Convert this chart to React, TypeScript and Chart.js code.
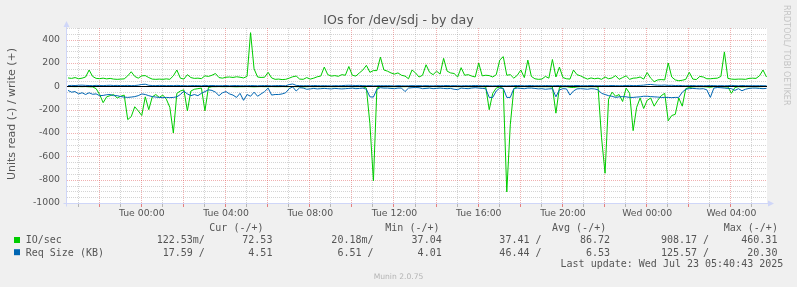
import React, { useEffect, useRef } from 'react';
import { Chart, registerables } from 'chart.js';

Chart.register(...registerables);

// Samples: 10-minute steps, hours relative to Tue 00:00
const START_HOUR = -3.5;
const STEP_HOURS = 1 / 6;
const X_MIN = -3.55;
const X_MAX = 29.69;
const Y_MIN = -1000;
const Y_MAX = 500;

// IO/sec, write (+)
const ioWrite = [
  72, 68, 75, 65, 70, 80, 140, 85, 68, 66,
  70, 64, 68, 62, 60, 62, 64, 90, 125, 85,
  70, 90, 92, 75, 62, 60, 62, 60, 64, 60,
  90, 140, 70, 62, 100, 75, 68, 70, 66, 90,
  85, 95, 110, 75, 70, 78, 80, 76, 82, 78,
  72, 85, 460, 150, 80, 76, 78, 120, 72, 60,
  62, 58, 60, 70, 82, 88, 62, 60, 75, 62,
  70, 82, 88, 165, 100, 88, 92, 86, 100, 95,
  170, 95, 88, 115, 140, 180, 120, 135, 135, 250,
  140, 130, 115, 105, 115, 95, 88, 65, 140, 115,
  80, 95, 185, 120, 100, 130, 105, 240, 130, 115,
  110, 80, 160, 95, 100, 88, 80, 200, 90, 95,
  92, 80, 100, 225, 255, 95, 100, 70, 95, 140,
  75, 225, 85, 65, 60, 62, 85, 70, 230, 80,
  165, 75, 65, 62, 140, 100, 90, 75, 62, 72,
  65, 70, 60, 80, 65, 72, 92, 60, 75, 90,
  60, 70, 72, 80, 62, 118, 70, 40, 55, 58,
  55, 200, 80, 55, 48, 52, 60, 120, 62, 58,
  85, 80, 65, 65, 68, 70, 85, 295, 68, 62,
  60, 62, 62, 60, 68, 70, 68, 90, 140, 80,
];

// IO/sec, read (-)
const ioRead = [
  2, 2, 3, 2, 3, 2, 4, 5, 20, 70,
  140, 90, 80, 70, 100, 85, 75, 285, 260, 175,
  210, 250, 90, 200, 90, 70, 95, 75, 110, 180,
  400, 60, 40, 30, 210, 40, 25, 20, 15, 210,
  10, 3, 3, 2, 3, 3, 2, 3, 4, 3,
  3, 2, 3, 4, 3, 2, 3, 3, 2, 3,
  3, 2, 3, 3, 2, 3, 3, 5, 3, 2,
  3, 2, 3, 3, 2, 3, 3, 2, 3, 3,
  2, 3, 3, 2, 3, 15, 320, 810, 15, 3,
  3, 2, 3, 3, 2, 3, 3, 2, 3, 3,
  3, 2, 3, 3, 2, 3, 3, 2, 3, 3,
  2, 3, 3, 2, 3, 3, 2, 3, 3, 5,
  200, 60, 15, 5, 20, 905, 330, 20, 3, 3,
  2, 3, 3, 2, 3, 3, 3, 3, 5, 230,
  10, 3, 3, 8, 10, 5, 3, 3, 3, 3,
  3, 5, 440, 745, 110, 50, 85, 70, 130, 15,
  60, 380, 180, 100, 190, 120, 100, 170, 120, 80,
  60, 295, 250, 240, 100, 170, 20, 10, 5, 3,
  3, 3, 5, 8, 3, 3, 3, 5, 5, 60,
  10, 3, 5, 3, 3, 3, 3, 3, 2, 0.12,
];

// Req Size (KB), read (-)
const sizeRead = [
  35, 50, 45, 65, 55, 70, 55, 68, 65, 80,
  78, 72, 70, 80, 80, 88, 92, 95, 92, 88,
  80, 65, 70, 80, 88, 92, 95, 97, 95, 97,
  95, 90, 70, 42, 65, 80, 70, 80, 60, 45,
  30, 35, 50, 80, 55, 45, 65, 75, 95, 60,
  120, 70, 85, 50, 85, 65, 45, 15, 75, 70,
  70, 65, 55, 20, 5, 40, 12, 15, 25, 22,
  18, 22, 20, 18, 20, 22, 18, 20, 22, 20,
  18, 15, 20, 18, 15, 25, 90, 92, 25, 12,
  15, 15, 18, 20, 15, 15, 45, 15, 12, 10,
  12, 20, 18, 15, 20, 18, 15, 18, 20, 18,
  25, 28, 15, 18, 20, 15, 12, 15, 18, 20,
  95, 95, 40, 15, 18, 95, 95, 20, 15, 18,
  20, 15, 15, 18, 22, 20, 25, 22, 20, 90,
  30, 20, 22, 75, 40, 22, 20, 22, 25, 20,
  22, 30, 60, 70, 80, 85, 95, 90, 88, 90,
  95, 95, 92, 90, 85, 85, 88, 90, 92, 95,
  95, 95, 97, 95, 95, 50, 25, 20, 18, 20,
  22, 20, 30, 95, 15, 10, 12, 15, 18, 20,
  35, 20, 38, 25, 18, 15, 15, 18, 20, 17.59,
];

// Req Size (KB), write (+)
const sizeWrite = [
  6, 8, 7, 9, 10, 8, 7, 6, 8, 7,
  6, 8, 9, 7, 8, 6, 7, 8, 6, 7,
  10, 16, 18, 9, 7, 6, 8, 7, 6, 7,
  6, 8, 7, 6, 5, 6, 7, 6, 5, 8,
  6, 7, 6, 5, 6, 7, 5, 6, 7, 5,
  6, 5, 7, 6, 5, 6, 7, 6, 5, 6,
  7, 6, 5, 15, 20, 8, 6, 5, 6, 5,
  7, 6, 5, 6, 5, 4, 6, 5, 6, 8,
  9, 8, 7, 8, 6, 5, 6, 4, 5, 6,
  5, 6, 5, 4, 6, 5, 4, 5, 6, 5,
  6, 5, 6, 5, 4, 6, 5, 6, 7, 5,
  6, 5, 4, 6, 5, 6, 7, 6, 5, 6,
  5, 4, 5, 6, 5, 4, 5, 6, 7, 6,
  5, 6, 7, 5, 6, 5, 7, 6, 5, 6,
  7, 5, 6, 5, 6, 7, 6, 5, 6, 7,
  6, 5, 6, 5, 6, 7, 6, 5, 6, 7,
  8, 6, 7, 8, 10, 14, 16, 12, 10, 9,
  11, 8, 9, 7, 8, 6, 5, 6, 7, 5,
  6, 5, 6, 7, 6, 5, 6, 5, 6, 8,
  6, 5, 7, 6, 5, 6, 5, 6, 5, 4.51,
];

const xTickHours = [0, 4, 8, 12, 16, 20, 24, 28];
const xTickLabels = ['Tue 00:00', 'Tue 04:00', 'Tue 08:00', 'Tue 12:00', 'Tue 16:00', 'Tue 20:00', 'Wed 00:00', 'Wed 04:00'];
const yTickValues = [400, 200, 0, -200, -400, -600, -800, -1000];

const chartTitle = 'IOs for /dev/sdj - by day';
const yAxisTitle = 'Units read (-) / write (+)';
const sideText = 'RRDTOOL/ TOBI OETIKER';
const versionText = 'Munin 2.0.75';
const lastUpdate = 'Last update: Wed Jul 23 05:40:43 2025';

const seriesNames = ['IO/sec', 'Req Size (KB)'];
const legendHeaders = ['Cur (-/+)', 'Min (-/+)', 'Avg (-/+)', 'Max (-/+)'];
const ioStats = ['122.53m/', '72.53', '20.18m/', '37.04', '37.41 /', '86.72', '908.17 /', '460.31'];
const sizeStats = ['17.59 /', '4.51', '6.51 /', '4.01', '46.44 /', '6.53', '125.57 /', '20.30'];

const GREEN = '#00CC00';
const BLUE = '#0066B3';
const MINOR = 'rgba(143,143,143,0.38)';
const MAJOR = 'rgba(222,79,79,0.45)';
const MINOR_TICK = 'rgba(143,143,143,0.6)';
const MAJOR_TICK = 'rgba(222,79,79,0.7)';
const AXIS = '#CFD6F8';
const FONT = '#555555';

const times = ioWrite.map((_, i) => START_HOUR + i * STEP_HOURS);
const toPoints = (vals: number[], sign: number) => vals.map((v, i) => ({ x: times[i], y: sign * v }));

const decorPlugin = {
  id: 'muninDecor',
  beforeDraw(chart: any) {
    const { ctx, chartArea: a, width, height } = chart;
    ctx.save();
    ctx.fillStyle = '#F0F0F0';
    ctx.fillRect(0, 0, width, height);
    ctx.fillStyle = '#FFFFFF';
    ctx.fillRect(a.left, a.top, a.right - a.left, a.bottom - a.top);
    ctx.restore();
  },
  beforeDatasetsDraw(chart: any) {
    const { ctx, chartArea: a, scales } = chart;
    const xs = scales.x;
    const ys = scales.y;
    ctx.save();
    ctx.lineWidth = 1;
    // horizontal grid: minor every 50, major every 200
    ctx.setLineDash([1, 1]);
    for (let v = Y_MIN; v <= Y_MAX; v += 50) {
      const py = Math.round(ys.getPixelForValue(v)) + 0.5;
      ctx.strokeStyle = v % 200 === 0 ? MAJOR : MINOR;
      ctx.beginPath();
      ctx.moveTo(a.left, py);
      ctx.lineTo(a.right, py);
      ctx.stroke();
    }
    // vertical grid: minor every hour, major every 2 hours
    for (let h = Math.ceil(X_MIN); h <= Math.floor(X_MAX); h++) {
      const px = Math.round(xs.getPixelForValue(h)) - 0.5;
      ctx.strokeStyle = h % 2 === 0 ? MAJOR : MINOR;
      ctx.beginPath();
      ctx.moveTo(px, a.top);
      ctx.lineTo(px, a.bottom);
      ctx.stroke();
    }
    // tick marks under the time axis
    ctx.setLineDash([]);
    for (let h = Math.ceil(X_MIN); h <= Math.floor(X_MAX); h++) {
      const px = Math.round(xs.getPixelForValue(h)) - 0.5;
      ctx.strokeStyle = h % 2 === 0 ? MAJOR_TICK : MINOR_TICK;
      ctx.beginPath();
      ctx.moveTo(px, a.bottom + 1);
      ctx.lineTo(px, a.bottom + 4);
      ctx.stroke();
    }
    ctx.restore();
  },
  afterDatasetsDraw(chart: any) {
    const { ctx, chartArea: a, scales } = chart;
    const y0 = Math.round(scales.y.getPixelForValue(0)) + 0.5;
    ctx.save();
    ctx.strokeStyle = '#000000';
    ctx.lineWidth = 1;
    ctx.beginPath();
    ctx.moveTo(a.left, y0);
    ctx.lineTo(a.right, y0);
    ctx.stroke();
    ctx.restore();
  },
  afterDraw(chart: any) {
    const { ctx, chartArea: a } = chart;
    ctx.save();
    // axes + arrows
    ctx.strokeStyle = AXIS;
    ctx.fillStyle = AXIS;
    ctx.lineWidth = 1;
    const ax = a.left - 0.5;
    const ay = a.bottom + 0.5;
    ctx.beginPath();
    ctx.moveTo(ax, ay + 3);
    ctx.lineTo(ax, a.top - 2);
    ctx.moveTo(ax - 3, ay);
    ctx.lineTo(a.right + 1, ay);
    ctx.stroke();
    ctx.beginPath();
    ctx.moveTo(ax - 3, a.top - 1);
    ctx.lineTo(ax + 3, a.top - 1);
    ctx.lineTo(ax, a.top - 7);
    ctx.closePath();
    ctx.fill();
    ctx.beginPath();
    ctx.moveTo(a.right + 1, ay - 3);
    ctx.lineTo(a.right + 1, ay + 3);
    ctx.lineTo(a.right + 7, ay);
    ctx.closePath();
    ctx.fill();

    // title
    ctx.fillStyle = FONT;
    ctx.textBaseline = 'alphabetic';
    ctx.textAlign = 'center';
    ctx.font = '12.6px "DejaVu Sans"';
    ctx.fillText(chartTitle, 398.5, 24);

    // y axis title
    ctx.save();
    ctx.translate(15, 114);
    ctx.rotate(-Math.PI / 2);
    ctx.font = '11px "DejaVu Sans"';
    ctx.textAlign = 'center';
    ctx.fillText(yAxisTitle, 0, 0);
    ctx.restore();

    // side watermark
    ctx.save();
    ctx.translate(784, 5);
    ctx.rotate(Math.PI / 2);
    ctx.font = '8px "DejaVu Sans"';
    ctx.textAlign = 'left';
    ctx.fillStyle = '#C4C4C4';
    ctx.fillText(sideText, 0, 0);
    ctx.restore();

    // legend
    ctx.font = '10px "DejaVu Sans Mono"';
    ctx.fillStyle = FONT;
    ctx.textAlign = 'right';
    const headerRight = [263.5, 439.5, 606.2, 777.9];
    legendHeaders.forEach((h, i) => ctx.fillText(h, headerRight[i], 230.5));
    const colRight = [204.8, 272.4, 373.5, 441.7, 541.5, 610, 709.1, 777.4];
    const rows = [ioStats, sizeStats];
    const rowBase = [243.3, 255.5];
    const colors = [GREEN, BLUE];
    rows.forEach((vals, r) => {
      ctx.fillStyle = colors[r];
      ctx.fillRect(14, rowBase[r] - 6.3, 6, 6);
      ctx.fillStyle = FONT;
      ctx.textAlign = 'left';
      ctx.fillText(seriesNames[r], 25.7, rowBase[r]);
      ctx.textAlign = 'right';
      vals.forEach((v, c) => ctx.fillText(v, colRight[c], rowBase[r]));
    });
    ctx.fillText(lastUpdate, 783.3, 266.7);

    // version
    ctx.font = '7.6px "DejaVu Sans"';
    ctx.fillStyle = '#B4B4B4';
    ctx.textAlign = 'center';
    ctx.fillText(versionText, 398.5, 279);
    ctx.restore();
  },
};

export default function App() {
  const ref = useRef<HTMLCanvasElement>(null);
  useEffect(() => {
    document.body.style.margin = '0';
    const canvas = ref.current;
    if (!canvas) return;
    Chart.defaults.font.family = '"DejaVu Sans", sans-serif';
    const chart = new Chart(canvas, {
      type: 'line',
      data: {
        datasets: [
          { label: 'Req Size read', data: toPoints(sizeRead, -1), borderColor: BLUE, borderWidth: 1, pointRadius: 0, tension: 0, fill: false },
          { label: 'Req Size write', data: toPoints(sizeWrite, 1), borderColor: BLUE, borderWidth: 1, pointRadius: 0, tension: 0, fill: false },
          { label: 'IO/sec read', data: toPoints(ioRead, -1), borderColor: GREEN, borderWidth: 1, pointRadius: 0, tension: 0, fill: false },
          { label: 'IO/sec write', data: toPoints(ioWrite, 1), borderColor: GREEN, borderWidth: 1, pointRadius: 0, tension: 0, fill: false },
        ],
      },
      options: {
        responsive: false,
        animation: false,
        devicePixelRatio: 1,
        layout: { padding: { left: 0, right: 30, top: 28, bottom: 0 } },
        plugins: { legend: { display: false }, tooltip: { enabled: false }, title: { display: false } },
        scales: {
          x: {
            type: 'linear',
            min: X_MIN,
            max: X_MAX,
            afterFit: (s: any) => { s.height = 84; },
            ticks: {
              stepSize: 1,
              autoSkip: false,
              maxRotation: 0,
              padding: 5,
              color: FONT,
              font: { size: 9.3 },
              callback: (v: any) => {
                const idx = xTickHours.indexOf(Number(v));
                return idx >= 0 ? xTickLabels[idx] : '';
              },
            },
            grid: { display: false, drawTicks: false },
            border: { display: false },
          },
          y: {
            type: 'linear',
            min: Y_MIN,
            max: Y_MAX,
            afterFit: (s: any) => { s.width = 67; },
            ticks: {
              stepSize: 50,
              autoSkip: false,
              padding: 7,
              color: FONT,
              font: { size: 9.3 },
              callback: (v: any) => (yTickValues.includes(Number(v)) ? String(v) : ''),
            },
            grid: { display: false, drawTicks: false },
            border: { display: false },
          },
        },
      },
      plugins: [decorPlugin],
    } as any);
    return () => chart.destroy();
  }, []);
  return <canvas ref={ref} width={797} height={287} style={{ display: 'block', width: 797, height: 287 }} />;
}
